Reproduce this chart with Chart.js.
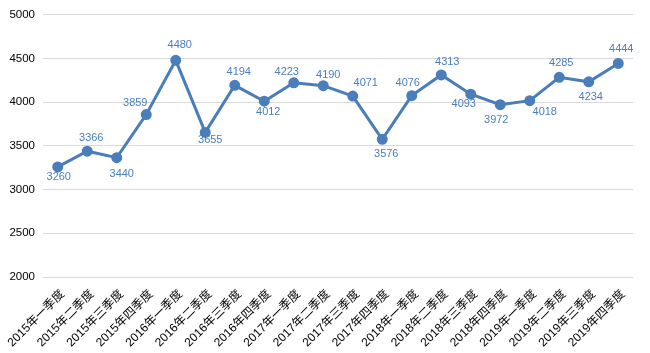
<!DOCTYPE html>
<html>
<head>
<meta charset="utf-8">
<script src="https://cdn.jsdelivr.net/npm/chart.js@4/dist/chart.umd.min.js"></script>
<style>
  html, body { margin: 0; padding: 0; background: #fff; }
  #wrap { width: 650px; height: 353px; }
</style>
</head>
<body>
<div id="wrap"><canvas id="quarterChart" width="650" height="353"></canvas></div>
<script>
const quarters = [
    "2015年一季度", "2015年二季度", "2015年三季度", "2015年四季度",
    "2016年一季度", "2016年二季度", "2016年三季度", "2016年四季度",
    "2017年一季度", "2017年二季度", "2017年三季度", "2017年四季度",
    "2018年一季度", "2018年二季度", "2018年三季度", "2018年四季度",
    "2019年一季度", "2019年二季度", "2019年三季度", "2019年四季度"
];
// plotted values
const quarterValues = [3260, 3440, 3366, 3859, 4480, 3655, 4194, 4012, 4223, 4190,
                       4071, 3576, 4076, 4313, 4093, 3972, 4018, 4285, 4234, 4444];
// the text shown next to each point (the 2nd and 3rd are swapped in the original)
const valueLabels = ["3260", "3366", "3440", "3859", "4480", "3655", "4194", "4012", "4223", "4190",
                     "4071", "3576", "4076", "4313", "4093", "3972", "4018", "4285", "4234", "4444"];
const yMin = 2000;
const yMax = 5000;
const yStep = 500;

// where each value label sits relative to its point (px)
const labelDx = [1, 4, 5, -11, 4, 5, 4, 4, -7, 5, 13, 4, -4, 6, -7, -4, 15, 2, 2, 3];
const labelDy = [10, -13, 16, -12, -15, 8, -13, 11, -11, -11, -13, 15, -13, -13, 10, 15, 11, -14, 15, -15];

const blue = "#4a7ebb";
const fontFamily = '"Liberation Sans", "Noto Sans CJK SC", sans-serif';

// no datalabels plugin offline, so draw the labels here
const valueLabelPlugin = {
    id: "valueLabels",
    beforeDraw(chart) {
        // nudge the rotated category labels a little to the right, like the original
        const xScale = chart.scales.x;
        const items = xScale.getLabelItems(chart.chartArea);
        if (!xScale._nudged) {
            items.forEach(it => { it.options.translation[0] += 5; });
            xScale._nudged = true;
        }
    },
    afterDatasetsDraw(chart) {
        const ctx = chart.ctx;
        const meta = chart.getDatasetMeta(0);
        ctx.save();
        ctx.font = "11px " + fontFamily;
        ctx.fillStyle = blue;
        ctx.textAlign = "center";
        ctx.textBaseline = "middle";
        meta.data.forEach((pt, i) => {
            ctx.fillText(valueLabels[i], pt.x + labelDx[i], pt.y + labelDy[i]);
        });
        ctx.restore();
    }
};

const chartConfig = {
    type: "line",
    data: {
        labels: quarters,
        datasets: [
            {
                data: quarterValues,
                borderColor: blue,
                backgroundColor: blue,
                borderWidth: 3,
                pointRadius: 4,
                pointBackgroundColor: blue,
                pointBorderColor: blue,
                tension: 0,
            },
        ],
    },
    options: {
        responsive: false,
        animation: false,
        layout: {
            padding: { top: 13, right: 17, bottom: 0, left: 0 },
        },
        plugins: {
            legend: { display: false },
            tooltip: { enabled: false },
        },
        scales: {
            x: {
                offset: true,
                grid: { display: false },
                border: { display: false },
                ticks: {
                    color: "#000",
                    font: { family: fontFamily, size: 12 },
                    minRotation: 45,
                    maxRotation: 45,
                    autoSkip: false,
                    padding: 2,
                },
                afterFit(scale) { scale.height = 76; },
            },
            y: {
                min: yMin,
                max: yMax,
                grid: { color: "#d9d9d9", lineWidth: 1, drawTicks: false },
                border: { display: false },
                ticks: {
                    stepSize: yStep,
                    color: "#000",
                    font: { family: fontFamily, size: 11.5 },
                    padding: 8,
                    callback: v => String(v),
                },
                afterFit(scale) { scale.width = 43; },
            },
        },
    },
    plugins: [valueLabelPlugin],
};

const quarterCtx = document.getElementById("quarterChart");
window.quarterChart = new Chart(quarterCtx, chartConfig);
</script>
</body>
</html>
